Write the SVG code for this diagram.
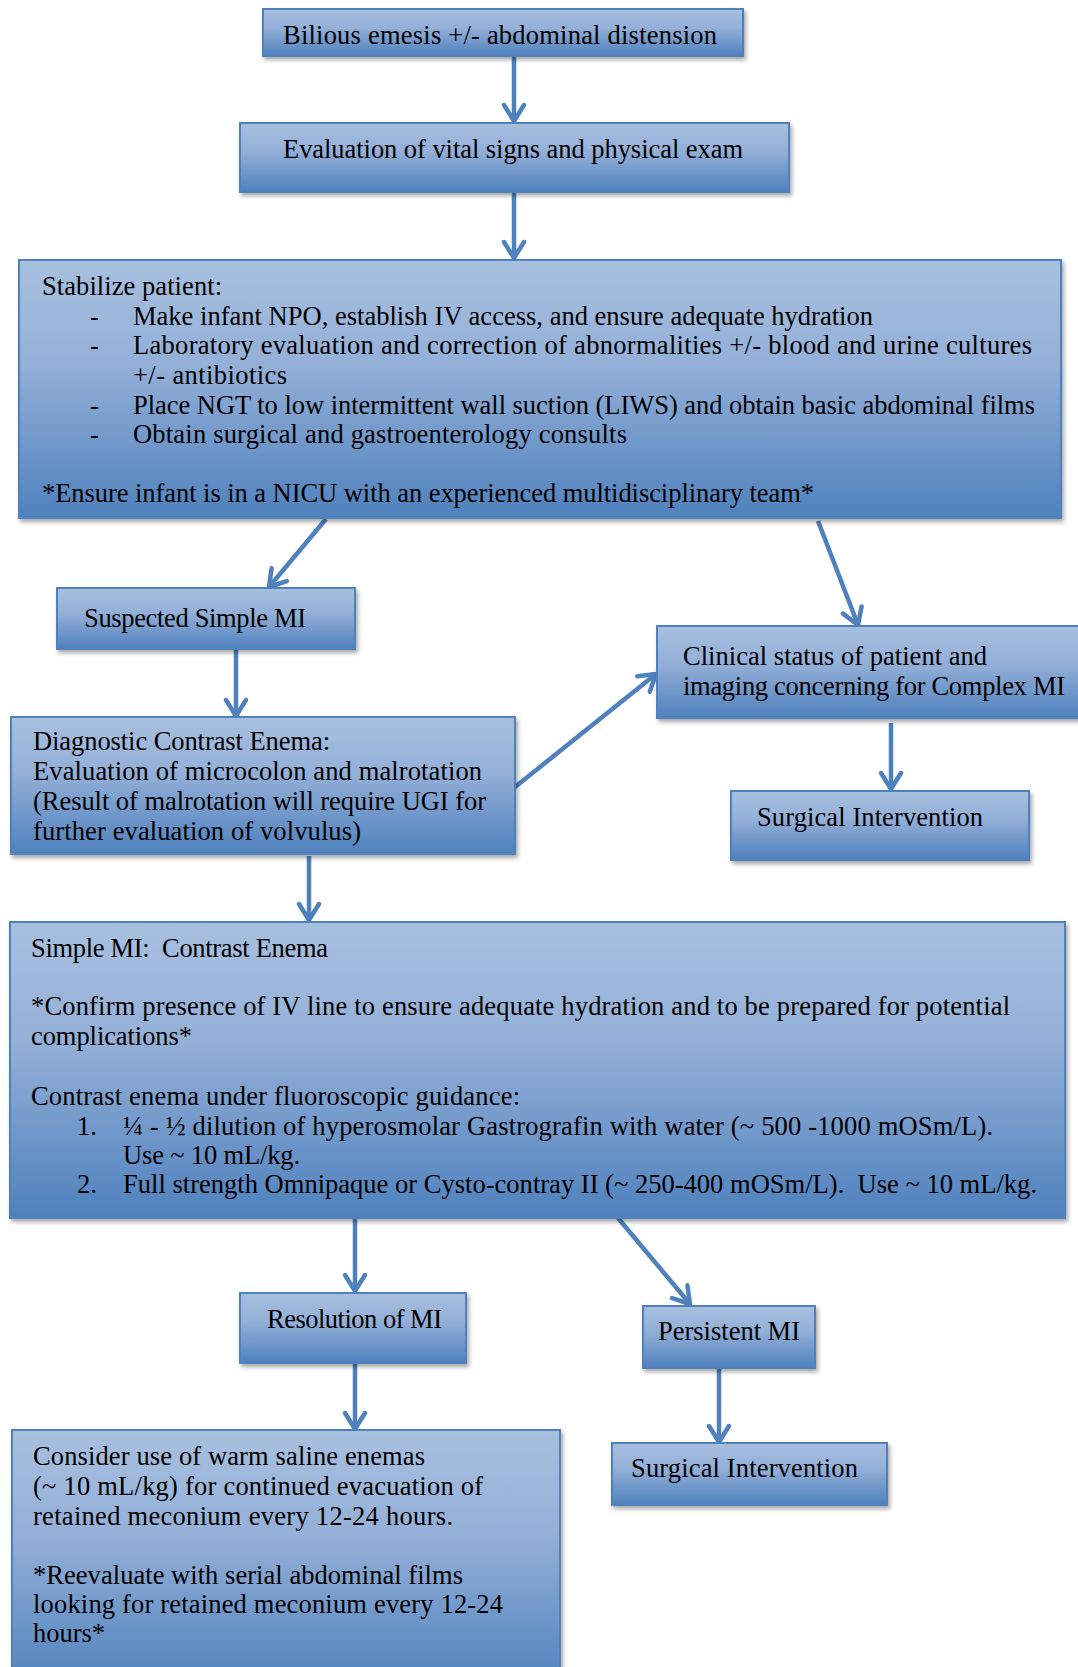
<svg xmlns="http://www.w3.org/2000/svg" width="1078" height="1667" viewBox="0 0 1078 1667">
<defs>
<linearGradient id="g" x1="0" y1="0" x2="0" y2="1">
<stop offset="0" stop-color="#a8c0df"/>
<stop offset="0.4" stop-color="#94b0d8"/>
<stop offset="1" stop-color="#4f81bd"/>
</linearGradient>
<filter id="sh" x="-5%" y="-5%" width="112%" height="120%">
<feDropShadow dx="2" dy="3" stdDeviation="2" flood-color="#000" flood-opacity="0.35"/>
</filter>
<marker id="ah" viewBox="-22 -14 28 28" refX="0" refY="0" markerWidth="28" markerHeight="28" markerUnits="userSpaceOnUse" orient="auto">
<path d="M-16,-10 L0,0 L-16,10" fill="none" stroke="#4f81bd" stroke-width="4.5" stroke-linecap="round" stroke-linejoin="round"/>
</marker>
<style>
.box{fill:url(#g);stroke:#4f81bd;stroke-width:2;filter:url(#sh)}
.t{font-family:"Liberation Serif","Times New Roman",serif;font-size:26.5px;fill:#000;white-space:pre}
.c{stroke:#4f81bd;stroke-width:4.5;fill:none;marker-end:url(#ah)}
</style>
</defs>
<rect width="1078" height="1667" fill="#fff"/>

<g id="connectors">
<line class="c" x1="514" y1="56" x2="514" y2="121"/>
<line class="c" x1="514" y1="192" x2="514" y2="258"/>
<line class="c" x1="326" y1="519" x2="269" y2="587"/>
<line class="c" x1="818" y1="521" x2="858" y2="625"/>
<line class="c" x1="236" y1="649" x2="236" y2="716"/>
<line class="c" x1="515" y1="787" x2="656" y2="674"/>
<line class="c" x1="891" y1="723" x2="891" y2="789"/>
<line class="c" x1="309" y1="856" x2="309" y2="920"/>
<line class="c" x1="355" y1="1218" x2="355" y2="1291"/>
<line class="c" x1="618" y1="1218" x2="690" y2="1304"/>
<line class="c" x1="719" y1="1368" x2="719" y2="1442"/>
<line class="c" x1="355" y1="1363" x2="355" y2="1429"/>
</g>

<g id="n1">
<rect class="box" x="263" y="9" width="480" height="47"/>
<text class="t" x="283" y="44" textLength="434" lengthAdjust="spacing">Bilious emesis +/- abdominal distension</text>
</g>

<g id="n2">
<rect class="box" x="240" y="123" width="549" height="69"/>
<text class="t" x="283" y="158" textLength="460" lengthAdjust="spacing">Evaluation of vital signs and physical exam</text>
</g>

<g id="n3">
<rect class="box" x="19" y="260" width="1042" height="258"/>
<text class="t" x="42" y="295" textLength="180" lengthAdjust="spacing">Stabilize patient:</text>
<text class="t" x="90" y="325">-</text>
<text class="t" x="133" y="325" textLength="740" lengthAdjust="spacing">Make infant NPO, establish IV access, and ensure adequate hydration</text>
<text class="t" x="90" y="354">-</text>
<text class="t" x="133" y="354" textLength="899" lengthAdjust="spacing">Laboratory evaluation and correction of abnormalities +/- blood and urine cultures</text>
<text class="t" x="133" y="384" textLength="154" lengthAdjust="spacing">+/- antibiotics</text>
<text class="t" x="90" y="414">-</text>
<text class="t" x="133" y="414" textLength="902" lengthAdjust="spacing">Place NGT to low intermittent wall suction (LIWS) and obtain basic abdominal films</text>
<text class="t" x="90" y="443">-</text>
<text class="t" x="133" y="443" textLength="494" lengthAdjust="spacing">Obtain surgical and gastroenterology consults</text>
<text class="t" x="42" y="502" textLength="772" lengthAdjust="spacing">*Ensure infant is in a NICU with an experienced multidisciplinary team*</text>
</g>

<g id="n4">
<rect class="box" x="57" y="588" width="298" height="61"/>
<text class="t" x="84" y="627" textLength="222" lengthAdjust="spacing">Suspected Simple MI</text>
</g>

<g id="n5">
<rect class="box" x="11" y="717" width="504" height="137"/>
<text class="t" x="33" y="750" textLength="297" lengthAdjust="spacing">Diagnostic Contrast Enema:</text>
<text class="t" x="33" y="780" textLength="449" lengthAdjust="spacing">Evaluation of microcolon and malrotation</text>
<text class="t" x="33" y="810" textLength="453" lengthAdjust="spacing">(Result of malrotation will require UGI for</text>
<text class="t" x="33" y="840" textLength="328" lengthAdjust="spacing">further evaluation of volvulus)</text>
</g>

<g id="n6">
<rect class="box" x="657" y="626" width="425" height="92"/>
<text class="t" x="683" y="665" textLength="304" lengthAdjust="spacing">Clinical status of patient and</text>
<text class="t" x="683" y="695" textLength="382" lengthAdjust="spacing">imaging concerning for Complex MI</text>
</g>

<g id="n7">
<rect class="box" x="731" y="791" width="298" height="69"/>
<text class="t" x="757" y="826" textLength="226" lengthAdjust="spacing">Surgical Intervention</text>
</g>

<g id="n8">
<rect class="box" x="10" y="922" width="1055" height="296"/>
<text class="t" x="31" y="957" textLength="297" lengthAdjust="spacing">Simple MI:  Contrast Enema</text>
<text class="t" x="31" y="1015" textLength="979" lengthAdjust="spacing">*Confirm presence of IV line to ensure adequate hydration and to be prepared for potential</text>
<text class="t" x="31" y="1045" textLength="161" lengthAdjust="spacing">complications*</text>
<text class="t" x="31" y="1105" textLength="489" lengthAdjust="spacing">Contrast enema under fluoroscopic guidance:</text>
<text class="t" x="77" y="1135">1.</text>
<text class="t" x="123" y="1135" textLength="870" lengthAdjust="spacing">¼ - ½ dilution of hyperosmolar Gastrografin with water (~ 500 -1000 mOSm/L).</text>
<text class="t" x="123" y="1164" textLength="177" lengthAdjust="spacing">Use ~ 10 mL/kg.</text>
<text class="t" x="77" y="1193">2.</text>
<text class="t" x="123" y="1193" textLength="914" lengthAdjust="spacing">Full strength Omnipaque or Cysto-contray II (~ 250-400 mOSm/L).  Use ~ 10 mL/kg.</text>
</g>

<g id="n9">
<rect class="box" x="240" y="1293" width="226" height="70"/>
<text class="t" x="267" y="1328" textLength="175" lengthAdjust="spacing">Resolution of MI</text>
</g>

<g id="n10">
<rect class="box" x="643" y="1306" width="172" height="62"/>
<text class="t" x="658" y="1340" textLength="142" lengthAdjust="spacing">Persistent MI</text>
</g>

<g id="n11">
<rect class="box" x="612" y="1443" width="275" height="62"/>
<text class="t" x="631" y="1477" textLength="227" lengthAdjust="spacing">Surgical Intervention</text>
</g>

<g id="n12">
<rect class="box" x="12" y="1430" width="548" height="260"/>
<text class="t" x="33" y="1465" textLength="392" lengthAdjust="spacing">Consider use of warm saline enemas</text>
<text class="t" x="33" y="1495" textLength="450" lengthAdjust="spacing">(~ 10 mL/kg) for continued evacuation of</text>
<text class="t" x="33" y="1525" textLength="420" lengthAdjust="spacing">retained meconium every 12-24 hours.</text>
<text class="t" x="33" y="1584" textLength="430" lengthAdjust="spacing">*Reevaluate with serial abdominal films</text>
<text class="t" x="33" y="1613" textLength="470" lengthAdjust="spacing">looking for retained meconium every 12-24</text>
<text class="t" x="33" y="1642" textLength="72" lengthAdjust="spacing">hours*</text>
</g>
</svg>
